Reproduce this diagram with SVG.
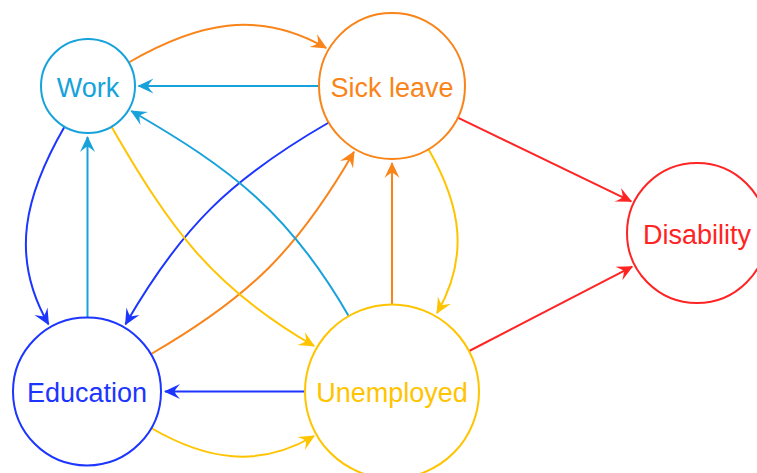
<svg xmlns="http://www.w3.org/2000/svg" width="757" height="473" viewBox="0 0 757 473">
<style>
.node{fill:#fff;stroke-width:2}
.lbl{font-family:"Liberation Sans",Arial,sans-serif;font-size:27px;text-anchor:middle}
.e{fill:none;stroke-width:2}
.cy{stroke:#17A2DB}.or{stroke:#F98419}.rd{stroke:#FF2424}.bl{stroke:#1C35FF}.ye{stroke:#FFC400}
.cy.e{marker-end:url(#aCy)}.or.e{marker-end:url(#aOr)}.rd.e{marker-end:url(#aRd)}.bl.e{marker-end:url(#aBl)}.ye.e{marker-end:url(#aYe)}
</style>
<defs>
<marker id="aCy" markerUnits="userSpaceOnUse" viewBox="-18 -10 20 20" refX="0" refY="0" markerWidth="20" markerHeight="20" orient="auto"><path d="M1,0 L-15,-7.5 Q-10.5,-2.5 -9.5,0 Q-10.5,2.5 -15,7.5 Z" fill="#17A2DB"/></marker>
<marker id="aOr" markerUnits="userSpaceOnUse" viewBox="-18 -10 20 20" refX="0" refY="0" markerWidth="20" markerHeight="20" orient="auto"><path d="M1,0 L-15,-7.5 Q-10.5,-2.5 -9.5,0 Q-10.5,2.5 -15,7.5 Z" fill="#F98419"/></marker>
<marker id="aRd" markerUnits="userSpaceOnUse" viewBox="-18 -10 20 20" refX="0" refY="0" markerWidth="20" markerHeight="20" orient="auto"><path d="M1,0 L-15,-7.5 Q-10.5,-2.5 -9.5,0 Q-10.5,2.5 -15,7.5 Z" fill="#FF2424"/></marker>
<marker id="aBl" markerUnits="userSpaceOnUse" viewBox="-18 -10 20 20" refX="0" refY="0" markerWidth="20" markerHeight="20" orient="auto"><path d="M1,0 L-15,-7.5 Q-10.5,-2.5 -9.5,0 Q-10.5,2.5 -15,7.5 Z" fill="#1C35FF"/></marker>
<marker id="aYe" markerUnits="userSpaceOnUse" viewBox="-18 -10 20 20" refX="0" refY="0" markerWidth="20" markerHeight="20" orient="auto"><path d="M1,0 L-15,-7.5 Q-10.5,-2.5 -9.5,0 Q-10.5,2.5 -15,7.5 Z" fill="#FFC400"/></marker>
</defs>
<rect width="757" height="473" fill="#fff"/>
<g id="connectors">
<path class="e or" d="M128.7,62.5 C196.7,23.25 258.2,8.75 326.2,48"/>
<path class="e cy" d="M319,86 L138.5,86"/>
<path class="e rd" d="M457.8,117.7 L631.2,201.3"/>
<path class="e rd" d="M469.2,351 L632.2,266.6"/>
<path class="e bl" d="M64.5,126.7 C25.2,194.8 9.2,256.2 48.5,324.3"/>
<path class="e cy" d="M87.5,317 L87.5,137"/>
<path class="e bl" d="M328.8,122.5 C230.7,179.1 182.1,226.2 125.5,324.3"/>
<path class="e or" d="M151.1,354 C249.2,297.4 297.4,249.9 354,151.8"/>
<path class="e ye" d="M111.5,126.7 C170.5,228.9 211.9,287 314.1,346"/>
<path class="e cy" d="M348.5,315.7 C289.5,213.5 233.5,170 131.3,111"/>
<path class="e or" d="M392,304 L392,163"/>
<path class="e ye" d="M428.5,149.2 C461.1,205.7 469.6,256.6 437,313.1"/>
<path class="e bl" d="M305,391.5 L165,391.5"/>
<path class="e ye" d="M151.1,428 C207.3,460.4 257.9,468.4 314.1,436"/>
</g>
<g id="work"><circle class="node cy" cx="88" cy="86" r="47"/><text class="lbl" x="88" y="96.5" fill="#17A2DB">Work</text></g>
<g id="sick-leave"><circle class="node or" cx="392" cy="86" r="73"/><text class="lbl" x="392" y="96.5" fill="#F98419">Sick leave</text></g>
<g id="disability"><circle class="node rd" cx="697" cy="233" r="70"/><text class="lbl" x="697" y="243.5" fill="#FF2424">Disability</text></g>
<g id="education"><circle class="node bl" cx="87" cy="391.5" r="74"/><text class="lbl" x="87" y="402" fill="#1C35FF">Education</text></g>
<g id="unemployed"><circle class="node ye" cx="392" cy="391.5" r="87"/><text class="lbl" x="392" y="402" fill="#FFC400">Unemployed</text></g>
</svg>
